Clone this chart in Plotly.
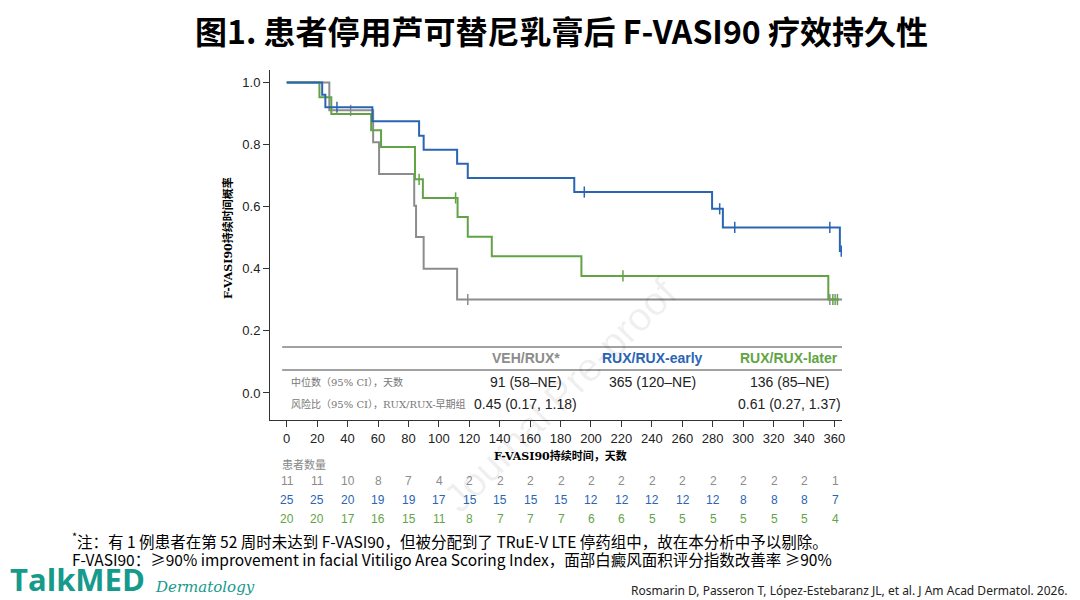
import plotly.graph_objects as go

# Kaplan-Meier steps (day, probability)
veh_t = [0, 28, 56.8, 60.7, 83.8, 85, 90, 112, 365]
veh_s = [1.0, 0.91, 0.807, 0.705, 0.603, 0.502, 0.40, 0.301, 0.301]
veh_cens_t = [42, 119, 357, 360.5]
veh_cens_s = [0.91, 0.301, 0.301, 0.301]

early_t = [0, 23.3, 25.4, 56.3, 87, 90, 112, 119, 189, 279.6, 286.7, 363.6, 365]
early_s = [1.0, 0.96, 0.92, 0.875, 0.828, 0.783, 0.738, 0.692, 0.647, 0.593, 0.533, 0.457, 0.457]
early_cens_t = [33, 195.6, 284.6, 294.5, 357, 364.5]
early_cens_s = [0.92, 0.647, 0.593, 0.533, 0.533, 0.457]

later_t = [0, 21.5, 29.3, 55.5, 62, 84.3, 89.5, 112.3, 119, 134.8, 193.7, 356, 363]
later_s = [1.0, 0.952, 0.898, 0.846, 0.792, 0.688, 0.628, 0.567, 0.503, 0.44, 0.377, 0.301, 0.301]
later_cens_t = [87, 111, 221, 359, 362]
later_cens_s = [0.688, 0.628, 0.377, 0.301, 0.301]

risk_days = list(range(0, 361, 20))
risk_veh = [11, 11, 10, 8, 7, 4, 2, 2, 2, 2, 2, 2, 2, 2, 2, 2, 2, 2, 1]
risk_early = [25, 25, 20, 19, 19, 17, 15, 15, 15, 15, 12, 12, 12, 12, 12, 8, 8, 8, 7]
risk_later = [20, 20, 17, 16, 15, 11, 8, 7, 7, 7, 6, 6, 5, 5, 5, 5, 5, 5, 4]

groups = ["VEH/RUX*", "RUX/RUX-early", "RUX/RUX-later"]
medians = ["91 (58–NE)", "365 (120–NE)", "136 (85–NE)"]
hrs = ["0.45 (0.17, 1.18)", "", "0.61 (0.27, 1.37)"]

GRAY, BLUE, GREEN = "#8c8c8c", "#2a65b3", "#62a445"
colors = [GRAY, BLUE, GREEN]
NARROW = "Liberation Sans Narrow, Arial"

fig = go.Figure()
for t, s, ct, cs, c in [(veh_t, veh_s, veh_cens_t, veh_cens_s, GRAY),
                        (later_t, later_s, later_cens_t, later_cens_s, GREEN),
                        (early_t, early_s, early_cens_t, early_cens_s, BLUE)]:
    fig.add_trace(go.Scatter(x=t, y=s, mode="lines", line=dict(color=c, width=2, shape="hv"),
                             showlegend=False, hoverinfo="skip"))
    fig.add_trace(go.Scatter(x=ct, y=cs, mode="markers", showlegend=False,
                             marker=dict(symbol="line-ns", size=8, line=dict(color=c, width=1.5))))

OFF = 8  # page margin of the html body
W0, W1, H0, H1 = 270 - OFF, 842 - OFF, 70 - OFF, 420 - OFF
FW, FH = 1080 - OFF, 600 - OFF
def px(x, y):
    return (x - OFF - W0) / (W1 - W0), (H1 - (y - OFF)) / (H1 - H0)

ann = []
def txt(x, y, s, size=12, color="black", anchor="center", family="Arial", **kw):
    xp, yp = px(x, y)
    ann.append(dict(x=xp, y=yp, xref="paper", yref="paper", text=s, showarrow=False,
                    xanchor=anchor, yanchor="middle", font=dict(size=size, color=color, family=family), **kw))

def day_x(d):
    return 287 + d * (835 - 287) / 360

txt(561, 30, "<b>图1. 患者停用芦可替尼乳膏后 F-VASI90 疗效持久性</b>", 32, "black", family="Noto Sans CJK SC")

# table in plot
serif = "DejaVu Serif, Noto Sans CJK SC"
for i, g in enumerate(groups):
    cx = day_x([157, 240, 330][i])
    txt(cx, 358, "<b>" + g + "</b>", 14, colors[i], family="Arial Narrow, " + NARROW)
    txt(cx, 382, medians[i], 14, "#222", family=NARROW)
    if hrs[i]:
        txt(cx, 404, hrs[i], 14, "#222", family=NARROW)
txt(289, 382, "中位数（95% CI），天数", 10, "#777", "left", serif)
txt(289, 404, "风险比（95% CI），RUX/RUX-早期组", 10, "#777", "left", serif)

txt(228, 238, "<b>F-VASI90持续时间概率</b>", 11, "black", family=serif, textangle=-90)
txt(560, 456, "<b>F-VASI90持续时间，天数</b>", 11, "black", family=serif)
txt(280, 465, "患者数量", 11, "#888", "left", serif)
for row, y, c in [(risk_veh, 481, GRAY), (risk_early, 500, BLUE), (risk_later, 519, GREEN)]:
    for d, n in zip(risk_days, row):
        txt(day_x(d), y, str(n), 12, c, family=NARROW)

txt(70, 540, "<sup>*</sup>注：有 1 例患者在第 52 周时未达到 F-VASI90，但被分配到了 TRuE-V LTE 停药组中，故在本分析中予以剔除。",
    15.5, "black", "left", "Noto Sans CJK SC")
txt(70, 559, "F-VASI90：≥90% improvement in facial Vitiligo Area Scoring Index，面部白癜风面积评分指数改善率 ≥90%",
    15.5, "black", "left", "Noto Sans CJK SC")
txt(8, 579, "<b>TalkMED</b>", 31, "#159a8c", "left", "Open Sans")
txt(153, 587, "<i>Dermatology</i>", 15, "#159a8c", "left", "DejaVu Serif")
txt(1070, 590, "Rosmarin D, Passeron T, López-Estebaranz JL, et al. J Am Acad Dermatol. 2026.", 12, "#222", "right", "Noto Sans")
txt(560, 395, "Journal Pre-proof", 40, "rgba(0,0,0,0.07)", "center", "Arial", textangle=-45)

shapes = [
    dict(type="line", xref="x", yref="y", x0=-3, x1=365, y0=0.148, y1=0.148, line=dict(color="#444", width=1.2)),
    dict(type="line", xref="x", yref="y", x0=-3, x1=365, y0=0.074, y1=0.074, line=dict(color="#444", width=1)),
]

fig.update_layout(
    width=FW, height=FH, plot_bgcolor="white", paper_bgcolor="white",
    margin=dict(l=W0, r=FW - W1, t=H0, b=FH - H1),
    annotations=ann, shapes=shapes,
    xaxis=dict(range=[-11, 365], tickvals=risk_days, ticks="outside", ticklen=6, tickcolor="#333",
               showline=True, linecolor="#333", showgrid=False, zeroline=False,
               tickfont=dict(size=13, family=NARROW, color="#222")),
    yaxis=dict(range=[-0.087, 1.04], tickvals=[0, 0.2, 0.4, 0.6, 0.8, 1.0],
               ticktext=["0.0", "0.2", "0.4", "0.6", "0.8", "1.0"], ticks="outside", ticklen=6,
               tickcolor="#333", showline=True, linecolor="#333", showgrid=False, zeroline=False,
               tickfont=dict(size=13, family=NARROW, color="#222")),
)

fig.write_html("out.html")
